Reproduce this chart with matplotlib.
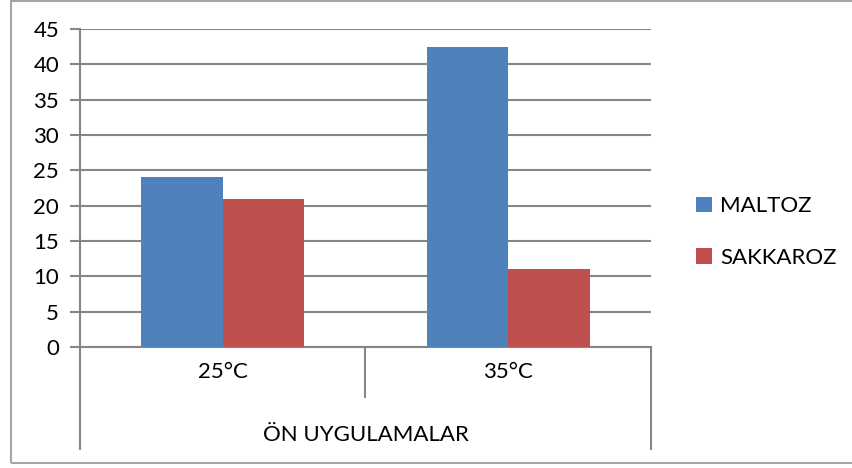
import matplotlib
matplotlib.use("Agg")
import matplotlib.pyplot as plt
from matplotlib.patches import Rectangle
import numpy as np

categories = ["25°C", "35°C"]
group_label = "ÖN UYGULAMALAR"
maltoz = [24, 42.5]
sakkaroz = [21, 11]
series_names = ["MALTOZ", "SAKKAROZ"]
yticks = [0, 5, 10, 15, 20, 25, 30, 35, 40, 45]

plt.rcParams['font.family'] = ['Lato', 'DejaVu Sans']
W, H = 853, 468
fig = plt.figure(figsize=(W / 100, H / 100), dpi=100)

# outer chart border
fig.patches.append(Rectangle((11 / W, 1 - 463 / H), (W + 5 - 11) / W, (463 - 1) / H,
                             transform=fig.transFigure, fill=False,
                             edgecolor='#a6a6a6', lw=1.5))

ax = fig.add_axes([80 / W, 1 - 347 / H, (651 - 80) / W, (347 - 29) / H])
x = np.arange(len(categories))
bw = 0.285
b1 = ax.bar(x - bw / 2, maltoz, bw, color='#4f81bd', label=series_names[0], zorder=3)
b2 = ax.bar(x + bw / 2, sakkaroz, bw, color='#c0504d', label=series_names[1], zorder=3)

ax.set_xlim(-0.5, len(categories) - 0.5)
ax.set_ylim(0, 45)
ax.set_yticks(yticks)
ax.tick_params(axis='y', labelsize=16, length=7, color='#868686', width=1.5, pad=8)
ax.set_xticks([])
ax.grid(axis='y', color='#868686', lw=1.5, zorder=0)
for s in ['top', 'right']:
    ax.spines[s].set_visible(False)
for s in ['left', 'bottom']:
    ax.spines[s].set_color('#868686')
    ax.spines[s].set_linewidth(1.5)

# multi-level category axis
tr = ax.get_xaxis_transform()
ax.vlines([-0.5, len(categories) - 0.5], -0.324, 0, transform=tr, colors='#868686',
          lw=1.5, clip_on=False)
ax.vlines(np.arange(len(categories) - 1) + 0.5, -0.16, 0, transform=tr, colors='#868686',
          lw=1.5, clip_on=False)
for xi, c in zip(x, categories):
    ax.text(xi, -0.079, c, transform=tr, ha='center', va='center', fontsize=16)
ax.text((len(categories) - 1) / 2, -0.277, group_label, transform=tr, ha='center',
        va='center', fontsize=16)

fig.legend(handles=[b1, b2], loc='center left', bbox_to_anchor=(676 / W, 1 - 232 / H),
           frameon=False, fontsize=16, handlelength=0.7, handleheight=0.7,
           handletextpad=0.4, labelspacing=1.4)

fig.savefig("out.png", dpi=100)
